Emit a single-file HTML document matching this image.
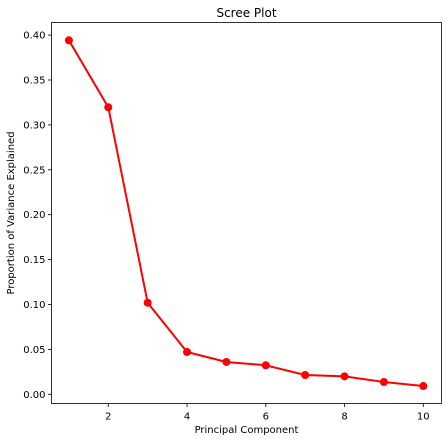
<!DOCTYPE html>
<html><head><meta charset="utf-8"><style>
body{margin:0;background:#fff;}
svg{display:block;font-family:"DejaVu Sans","Liberation Sans",sans-serif;}
</style></head><body>
<svg id="chart" width="448" height="441">
<rect x="0" y="0" width="448" height="441" fill="#fff"/>
<g id="axes"></g>
<text x="246.5" y="17" text-anchor="middle" font-size="12" fill="#000">Scree Plot</text>
<text x="246.5" y="433" text-anchor="middle" font-size="10" fill="#000">Principal Component</text>
<text transform="translate(14,213) rotate(-90)" text-anchor="middle" font-size="10" fill="#000">Proportion of Variance Explained</text>
</svg>
<script>
const components=[1,2,3,4,5,6,7,8,9,10];
const variance=[0.3942,0.3196,0.102,0.0471,0.036,0.0323,0.0215,0.020,0.0137,0.0092];
const xTicks=[2,4,6,8,10];
const yTicks=[0.00,0.05,0.10,0.15,0.20,0.25,0.30,0.35,0.40];
const L=51.5,R=441.5,T=22.5,B=403.5;
function xs(v){return 68.9+(v-1)*39.375;}
function ys(v){return 394.3-v*898;}
const NS='http://www.w3.org/2000/svg';
const g=document.getElementById('axes');
function mk(t,a){const e=document.createElementNS(NS,t);for(const k in a)e.setAttribute(k,a[k]);g.appendChild(e);return e;}
xTicks.forEach(v=>{
 const l=mk('line',{x1:xs(v),x2:xs(v),y1:B,y2:B+3.5,stroke:'#000','stroke-width':0.8});
 
 
 const t=mk('text',{x:xs(v),y:B+16,'text-anchor':'middle','font-size':10,fill:'#000'});
 t.textContent=v;
 
 
});
yTicks.forEach(v=>{
 const l=mk('line',{x1:L-3.5,x2:L,y1:ys(v),y2:ys(v),stroke:'#000','stroke-width':0.8});
 
 
 const t=mk('text',{x:L-6,y:ys(v)+3.5,'text-anchor':'end','font-size':10,fill:'#000'});
 t.textContent=v.toFixed(2);
 
 
});
const pl=mk('polyline',{points:components.map((c,i)=>xs(c)+','+ys(variance[i])).join(' '),fill:'none',stroke:'#ff0000','stroke-width':2,'stroke-linejoin':'round'});


components.forEach((c,i)=>{
 const p=mk('circle',{cx:xs(c),cy:ys(variance[i]),r:4,fill:'#ff0000'});
 
 
});
const fr=mk('rect',{x:L,y:T,width:R-L,height:B-T,fill:'none',stroke:'#000','stroke-width':0.8});


</script>
</body></html>
